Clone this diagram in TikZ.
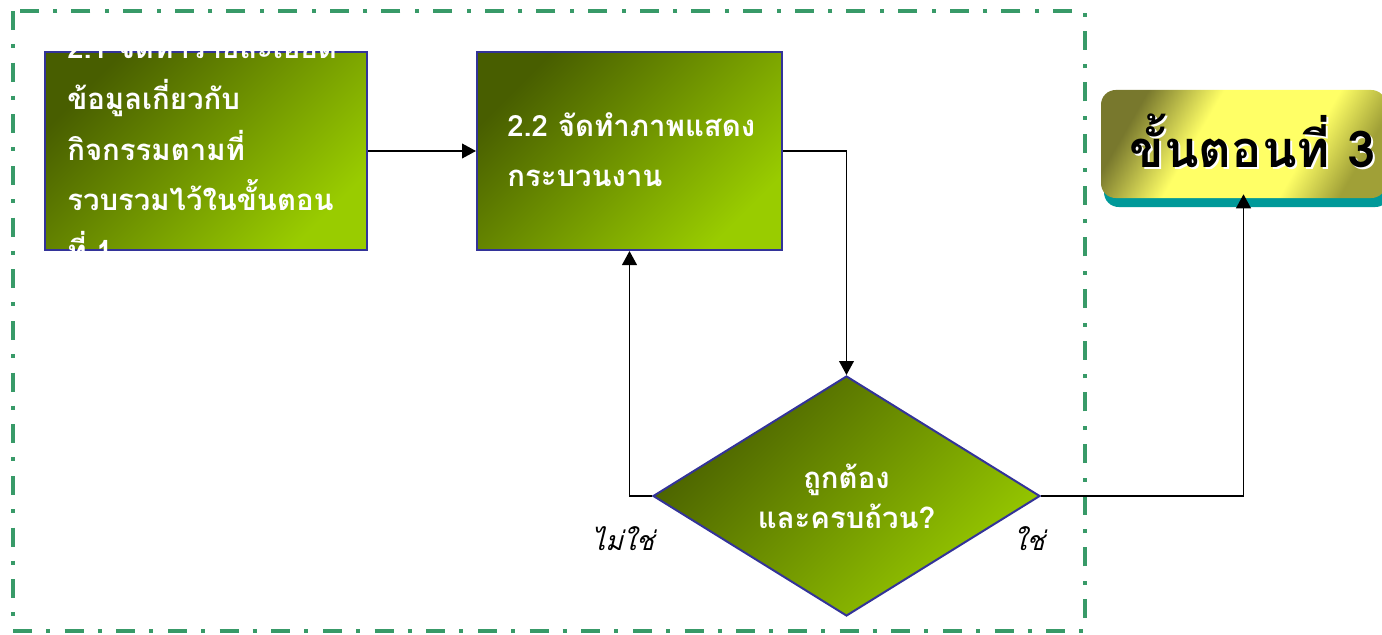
\documentclass[tikz,border=0pt]{standalone}
\usepackage{fontspec}
\setmainfont[Script=Thai]{Loma}
\newfontfamily\thaiit[Script=Thai,FakeSlant=0.25]{Loma}
\usetikzlibrary{arrows.meta,shapes.geometric}
\definecolor{gdark}{RGB}{72,94,0}
\definecolor{glight}{RGB}{153,204,0}
\definecolor{bord}{RGB}{51,51,153}
\definecolor{frame}{RGB}{56,154,104}
\definecolor{sdark}{RGB}{120,120,45}
\definecolor{syel}{RGB}{255,255,102}
\definecolor{sbr}{RGB}{160,160,55}
\definecolor{steal}{RGB}{0,153,153}
\pgfdeclarehorizontalshading{stepsh}{100bp}{color(0bp)=(sdark); color(25bp)=(sdark); color(40bp)=(syel); color(63bp)=(syel); color(75bp)=(sbr); color(100bp)=(sbr)}
\tikzset{
  gbox/.style={draw=bord, line width=1.5pt, top color=gdark, bottom color=glight, shading angle=45, inner sep=0pt},
  wtext/.style={text=white, inner sep=0pt, align=left},
  conn/.style={line width=1.4pt, -{Triangle[length=10.5pt,width=11pt]}},
  lab/.style={inner sep=0pt, font=\thaiit\fontsize{20}{22}\selectfont},
  stitle/.style={inner sep=0pt, anchor=base, font=\bfseries\fontsize{38}{40}\selectfont}
}
\begin{document}
\begin{tikzpicture}[x=0.75pt,y=-0.75pt]
\useasboundingbox (0,0) rectangle (1382,635);
% dashed frame
\draw[frame, line width=3pt, dash pattern=on 14.25pt off 10.5pt on 3pt off 11pt] (13,11) rectangle (1085,631);
% boxes
\node[gbox, minimum width=322*0.75pt, minimum height=198*0.75pt] (b1) at (206,151) {};
\node[gbox, minimum width=305*0.75pt, minimum height=198*0.75pt] (b2) at (629.5,151) {};
\node[gbox, diamond, minimum width=387*0.75pt, minimum height=240*0.75pt] (d) at (846.5,496) {};
% step 3
\fill[steal, rounded corners=11pt] (1104,100) rectangle (1390,207);
\node[draw=none, rounded corners=11pt, shading=stepsh, shading angle=-30, minimum width=285*0.75pt, minimum height=108*0.75pt, inner sep=0pt] (s3) at (1243.5,144) {};
% connectors
\draw[conn] (b1.east) -- (b2.west);
\draw[conn] (b2.east) -| (d.north);
\draw[conn] (d.west) -| (b2.south);
\draw[conn, shorten >=-3pt] (d.east) -| (s3.south);
% texts
\node[wtext, anchor=base west, text width=320*0.75pt, font=\bfseries\fontsize{22}{38}\selectfont] (t1) at (67,59)
  {2.1 จัดทำรายละเอียด\\ข้อมูลเกี่ยวกับ\\กิจกรรมตามที่\\รวบรวมไว้ในขั้นตอน\\ที่ 1};
\node[wtext, anchor=base west, text width=290*0.75pt, font=\bfseries\fontsize{22}{37.5}\selectfont] (t2) at (507,137)
  {2.2 จัดทำภาพแสดง\\กระบวนงาน};
\node[wtext, anchor=base, align=center, text width=300*0.75pt, font=\bfseries\fontsize{22}{30}\selectfont] (td) at (846.5,488)
  {ถูกต้อง\\และครบถ้วน?};
\node[lab, anchor=base] (no) at (623,550) {ไม่ใช่};
\node[lab, anchor=base] (yes) at (1029,550) {ใช่};
\node[stitle, text=white] (s3sh) at (1254.5,169) {ขั้นตอนที่ 3};
\node[stitle, text=black] (s3t) at (1252.5,167) {ขั้นตอนที่ 3};
\end{tikzpicture}
\end{document}
